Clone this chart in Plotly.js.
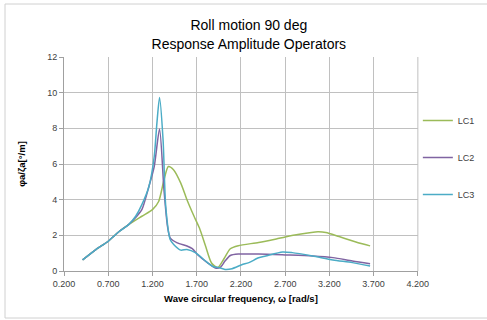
<!DOCTYPE html>
<html><head><meta charset="utf-8">
<script src="https://cdn.plot.ly/plotly-3.0.1.min.js"></script>
<style>html,body{margin:0;padding:0;background:#fff;}#chart{width:487px;height:320px;}</style>
</head><body><div id="chart"></div>
<script>
var lc1X = [0.41,0.56,0.70,0.82,0.93,1.08,1.20,1.27,1.33,1.38,1.44,1.52,1.59,1.67,1.73,1.80,1.87,1.94,2.01,2.08,2.17,2.40,2.60,2.70,2.86,3.07,3.16,3.31,3.50,3.66];
var lc1Y = [0.62,1.2,1.67,2.2,2.6,3.07,3.44,3.9,5.1,5.86,5.67,4.93,4.0,3.07,2.42,1.4,0.43,0.2,0.7,1.25,1.42,1.6,1.8,1.91,2.06,2.2,2.16,1.93,1.63,1.41];
var lc2X = [0.41,0.56,0.70,0.82,0.93,1.01,1.08,1.16,1.22,1.28,1.33,1.37,1.40,1.48,1.59,1.65,1.72,1.82,1.91,1.97,2.02,2.08,2.17,2.40,2.70,3.01,3.24,3.46,3.66];
var lc2Y = [0.62,1.2,1.67,2.2,2.6,3.0,3.44,4.74,5.86,7.96,4.56,2.5,1.86,1.58,1.4,1.25,0.87,0.47,0.17,0.22,0.56,0.87,0.95,0.95,0.9,0.84,0.75,0.56,0.41];
var lc3X = [0.41,0.56,0.70,0.82,0.93,1.01,1.08,1.16,1.22,1.25,1.28,1.32,1.35,1.40,1.44,1.52,1.59,1.69,1.80,1.89,1.95,2.02,2.10,2.21,2.29,2.40,2.48,2.67,2.78,3.01,3.24,3.46,3.66];
var lc3Y = [0.62,1.2,1.67,2.2,2.6,3.07,3.72,4.74,6.42,8.28,9.73,7.35,3.63,1.77,1.49,1.17,1.21,1.02,0.56,0.24,0.19,0.09,0.13,0.35,0.47,0.74,0.84,1.07,1.03,0.84,0.62,0.47,0.28];
var seriesNames = ['LC1','LC2','LC3'];
var seriesColors = ['#9BBB59','#8064A2','#4BACC6'];
var xTicks = [0.2,0.7,1.2,1.7,2.2,2.7,3.2,3.7,4.2];
var yTicks = [0,2,4,6,8,10,12];

var xs=[lc1X,lc2X,lc3X], ys=[lc1Y,lc2Y,lc3Y];
var data = seriesNames.map(function(n,i){
  return {x:xs[i], y:ys[i], name:n, type:'scatter', mode:'lines', legendgroup:n,
    line:{color:seriesColors[i], width:1.5, shape:'spline', smoothing:0.7}};
});
var axisFont = {family:'Liberation Sans, Arial, sans-serif', size:9, color:'#404040'};
var layout = {
  width:487, height:320,
  margin:{l:64, r:69, t:57, b:49},
  paper_bgcolor:'#fff', plot_bgcolor:'#fff',
  title:{text:'Roll motion 90 deg<br>Response Amplitude Operators', x:0.511, xref:'container', xanchor:'center',
    y:0.905, yref:'container', yanchor:'top',
    font:{family:'Liberation Sans, Arial, sans-serif', size:14, color:'#000'}},
  xaxis:{range:[0.2,4.2], tickvals:xTicks, ticktext:xTicks.map(function(v){return v.toFixed(3);}),
    showgrid:true, gridcolor:'#c0c0c0', gridwidth:1, zeroline:false,
    showline:true, linecolor:'#a0a0a0', mirror:false, ticks:'outside', ticklen:4, tickcolor:'#a0a0a0',
    tickfont:axisFont,
    title:{text:'<b>Wave circular frequency, ω [rad/s]</b>', standoff:7, font:{family:'Liberation Sans, Arial, sans-serif', size:9.5, color:'#000'}}},
  yaxis:{range:[0,12], tickvals:yTicks, showgrid:true, gridcolor:'#c0c0c0', gridwidth:1, zeroline:false,
    showline:true, linecolor:'#a0a0a0', ticks:'outside', ticklen:4, tickcolor:'#a0a0a0',
    tickfont:axisFont,
    title:{text:'<b>φa/ζa[°/m]</b>', standoff:19, font:{family:'Liberation Sans, Arial, sans-serif', size:9.5, color:'#000'}}},
  showlegend:true,
  legend:{xref:'container', x:0.858, xanchor:'left', yref:'paper', y:0.53, yanchor:'middle', traceorder:'grouped', tracegroupgap:18,
    font:{family:'Liberation Sans, Arial, sans-serif', size:9, color:'#404040'}, bgcolor:'rgba(0,0,0,0)', itemwidth:30},
  shapes:[
    {type:'line', xref:'paper', yref:'paper', x0:1, x1:1, y0:0, y1:1, line:{color:'#c0c0c0', width:1}},
    {type:'rect', xref:'paper', yref:'paper', x0:(5-64)/354, x1:(495-64)/354, y0:(271-318)/214, y1:(271-4)/214,
      line:{color:'#d0d0d0', width:1}, fillcolor:'rgba(0,0,0,0)', layer:'below'}
  ]
};
Plotly.newPlot('chart', data, layout, {displayModeBar:false, staticPlot:true});
</script></body></html>
